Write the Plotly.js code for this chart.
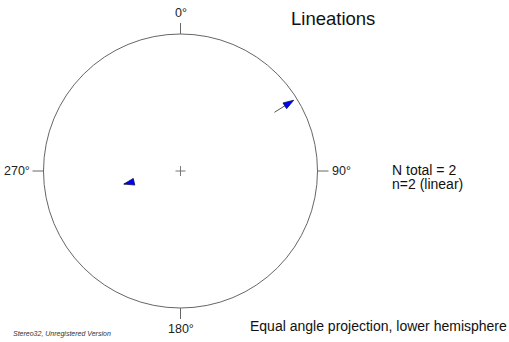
<!DOCTYPE html>
<html>
<head>
<meta charset="utf-8">
<script src="https://cdn.plot.ly/plotly-3.0.1.min.js"></script>
<style>html,body{margin:0;padding:0;background:#fff;}#chart{width:509px;height:342px;}</style>
</head>
<body>
<div id="chart"></div>
<script>
// Lineation data (trend / plunge, degrees)
var trends = [58, 257];
var plunges = [1.5, 44];
var labels = ['L1', 'L2'];
var dirLabels = ['0°', '90°', '180°', '270°'];
var dirAngles = [0, 90, 180, 270];
var chartTitle = 'Lineations';
var infoLines = ['N total = 2', 'n=2 (linear)'];
var footer = 'Equal angle projection, lower hemisphere';
var credit = 'Stereo32, Unregistered Version';

var R = 137, cx = 180.5, cy = 171, W = 509, H = 342;
var FONT = 'Liberation Sans, Arial, sans-serif';
function proj(t, p) {
  var r = Math.tan((90 - p) / 2 * Math.PI / 180);
  var a = t * Math.PI / 180;
  return [r * Math.sin(a), r * Math.cos(a)];
}
var traces = [];
for (var i = 0; i < trends.length; i++) {
  var tip = proj(trends[i], plunges[i]);
  var tail = [tip[0] * 0.83, tip[1] * 0.83];
  traces.push({
    x: [tail[0], tip[0]], y: [tail[1], tip[1]], type: 'scatter', mode: 'lines+markers',
    name: labels[i], hoverinfo: 'skip',
    line: {color: '#555', width: 1},
    marker: {symbol: ['circle', 'arrow'], size: [0, 11], angleref: 'previous', standoff: 0,
      color: '#0000ff', opacity: 1, line: {color: '#101050', width: 0.8}}
  });
}
var shapes = [
  {type: 'circle', xref: 'x', yref: 'y', x0: -1, x1: 1, y0: -1, y1: 1, line: {color: '#666', width: 1}},
  {type: 'line', x0: -5 / R, x1: 5 / R, y0: 0, y1: 0, line: {color: '#777', width: 1}},
  {type: 'line', x0: 0, x1: 0, y0: -5 / R, y1: 5 / R, line: {color: '#777', width: 1}}
];
var annotations = [];
var tickLen = 11 / R;
for (var k = 0; k < dirAngles.length; k++) {
  var a = dirAngles[k] * Math.PI / 180, s = Math.sin(a), c = Math.cos(a);
  shapes.push({type: 'line', x0: s, y0: c, x1: s * (1 + tickLen), y1: c * (1 + tickLen), line: {color: '#666', width: 1}});
  var lx = s * (1 + tickLen + 1 / R), ly = c * (1 + tickLen + 1 / R);
  annotations.push({x: lx, y: ly, xref: 'x', yref: 'y', text: dirLabels[k], showarrow: false,
    xanchor: s > 0.5 ? 'left' : (s < -0.5 ? 'right' : 'center'),
    yanchor: c > 0.5 ? 'bottom' : (c < -0.5 ? 'top' : 'middle'),
    font: {family: FONT, size: 12.5, color: '#222'}});
}
annotations.push({x: 333, y: 18, xref: 'x2', yref: 'y2', text: chartTitle, showarrow: false,
  xanchor: 'center', yanchor: 'middle', font: {family: FONT, size: 18.5, color: '#111'}});
for (var j = 0; j < infoLines.length; j++) {
  annotations.push({x: 390, y: 169.5 + 14 * j, xref: 'x2', yref: 'y2', text: infoLines[j], showarrow: false,
    xanchor: 'left', yanchor: 'middle', font: {family: FONT, size: 14, color: '#111'}});
}
annotations.push({x: 248, y: 326, xref: 'x2', yref: 'y2', text: footer, showarrow: false,
  xanchor: 'left', yanchor: 'middle', font: {family: FONT, size: 14, color: '#111'}});
annotations.push({x: 11, y: 334, xref: 'x2', yref: 'y2', text: '<i>' + credit + '</i>', showarrow: false,
  xanchor: 'left', yanchor: 'middle', font: {family: FONT, size: 7, color: '#333'}});

var layout = {
  width: W, height: H, margin: {l: 0, r: 0, t: 0, b: 0}, showlegend: false,
  paper_bgcolor: '#fff', plot_bgcolor: '#fff',
  xaxis: {range: [-cx / R, (W - cx) / R], visible: false, fixedrange: true},
  yaxis: {range: [-(H - cy) / R, cy / R], visible: false, fixedrange: true},
  xaxis2: {range: [0, W], visible: false, overlaying: 'x'},
  yaxis2: {range: [H, 0], visible: false, overlaying: 'y'},
  shapes: shapes, annotations: annotations
};
Plotly.newPlot('chart', traces, layout, {staticPlot: true});
</script>
</body>
</html>
